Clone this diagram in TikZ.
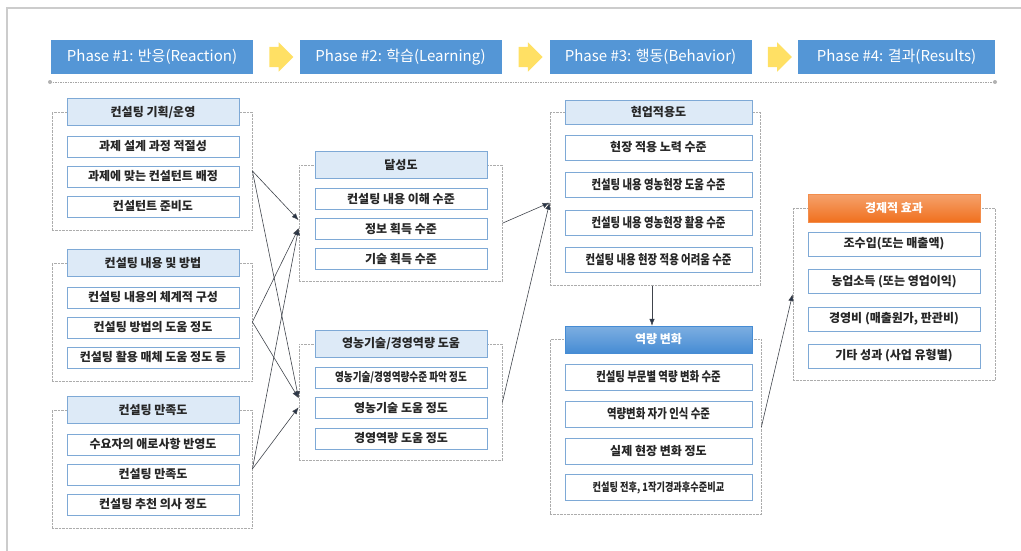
\documentclass[tikz,border=0pt]{standalone}
\usepackage{fontspec}
\setmainfont{Noto Sans CJK KR}
\newfontfamily\narrowkr[FakeStretch=0.8]{Noto Sans CJK KR}
\usetikzlibrary{shapes,arrows,arrows.meta,positioning,calc,fit,backgrounds}

\definecolor{phaseblue}{RGB}{84,150,214}
\definecolor{headfill}{RGB}{221,234,247}
\definecolor{boxline}{RGB}{126,169,214}
\definecolor{goyellow}{RGB}{255,224,100}
\definecolor{capblue}{RGB}{70,140,212}
\definecolor{caporange}{RGB}{240,112,30}
\definecolor{linkgray}{RGB}{64,68,76}
\definecolor{tipnavy}{RGB}{38,52,72}

\tikzset{
    groupbox/.style={draw=gray!65, densely dotted, inner sep=0pt},
    link/.style={-{Latex[length=7pt,width=5.5pt,fill=tipnavy]}, draw=linkgray, line width=0.6pt}
}

\begin{document}
\begin{tikzpicture}[
    x=1pt, y=-1pt,
    every node/.style={font=\fontsize{12}{14}\selectfont\bfseries, text=black!85},
    phase/.style={rectangle, fill=phaseblue, text=white, minimum width=202pt, minimum height=34pt, font=\fontsize{15}{17}\selectfont},
    go/.style={single arrow, fill=goyellow, minimum height=24pt, single arrow head extend=4.5pt, inner xsep=0pt, inner ysep=10pt},
    head/.style={rectangle, draw=boxline, fill=headfill, minimum width=172pt, minimum height=27pt, inner sep=0pt},
    item/.style={rectangle, draw=boxline, fill=white, minimum width=172pt, minimum height=21pt, inner sep=0pt},
    tight/.style={font=\fontsize{13}{15}\narrowkr\bfseries}
]
\useasboundingbox (0,0) rectangle (1021,550);
\draw[gray!40, line width=1.5pt] (7,552) -- (7,8) -- (1023,8);

    % Phases
    \node[phase] (ph1) at (152,57) {Phase \#1: 반응(Reaction)};
    \node[phase] (ph2) at (400.5,57) {Phase \#2: 학습(Learning)};
    \node[phase] (ph3) at (650.5,57) {Phase \#3: 행동(Behavior)};
    \node[phase, minimum width=197pt] (ph4) at (896.5,57) {Phase \#4: 결과(Results)};
    \node[go] (go1) at ($(ph1.east)!0.5!(ph2.west)$) {};
    \node[go] (go2) at ($(ph2.east)!0.5!(ph3.west)$) {};
    \node[go] (go3) at ($(ph3.east)!0.5!(ph4.west)$) {};

    \coordinate (ruleL) at (50,82);
    \coordinate (ruleR) at (995,82);
    \draw[gray!70, dash pattern=on 1.5pt off 1pt] (ruleL) -- (ruleR);
    \fill[gray!60] (ruleL) circle (2pt) (ruleR) circle (2pt);

    % Reaction
    \node[head] (plan) at (153,112) {컨설팅 기획/운영};
    \node[item, below=10pt of plan] (plan1) {과제 설계 과정 적절성};
    \node[item, below=8.5pt of plan1] (plan2) {과제에 맞는 컨설턴트 배정};
    \node[item, below=8.5pt of plan2] (plan3) {컨설턴트 준비도};

    \node[head] (method) at (153,263) {컨설팅 내용 및 방법};
    \node[item, below=10pt of method] (method1) {컨설팅 내용의 체계적 구성};
    \node[item, below=8.5pt of method1] (method2) {컨설팅 방법의 도움 정도};
    \node[item, below=8.5pt of method2] (method3) {컨설팅 활용 매체 도움 정도 등};

    \node[head] (satis) at (153,410) {컨설팅 만족도};
    \node[item, below=10pt of satis] (satis1) {수요자의 애로사항 반영도};
    \node[item, below=8.5pt of satis1] (satis2) {컨설팅 만족도};
    \node[item, below=8.5pt of satis2] (satis3) {컨설팅 추천 의사 정도};

    % Learning
    \node[head] (achieve) at (401,165) {달성도};
    \node[item, below=9.5pt of achieve] (achieve1) {컨설팅 내용 이해 수준};
    \node[item, below=8.5pt of achieve1] (achieve2) {정보 획득 수준};
    \node[item, below=8.5pt of achieve2] (achieve3) {기술 획득 수준};

    \node[head] (skill) at (401,344) {영농기술/경영역량 도움};
    \node[item, below=9pt of skill, font=\fontsize{12}{14}\narrowkr\bfseries] (skill1) {영농기술/경영역량수준 파악 정도};
    \node[item, below=9pt of skill1] (skill2) {영농기술 도움 정도};
    \node[item, below=9pt of skill2] (skill3) {경영역량 도움 정도};

    % Behavior
    \node[head, minimum width=187pt, minimum height=24pt] (apply) at (658.5,112) {현업적용도};
    \node[item, minimum width=187pt, minimum height=25pt, below=10.5pt of apply] (apply1) {현장 적용 노력 수준};
    \node[item, tight, minimum width=187pt, minimum height=25pt, below=12pt of apply1] (apply2) {컨설팅 내용 영농현장 도움 수준};
    \node[item, tight, minimum width=187pt, minimum height=25pt, below=12pt of apply2] (apply3) {컨설팅 내용 영농현장 활용 수준};
    \node[item, tight, minimum width=187pt, minimum height=25pt, below=12pt of apply3] (apply4) {컨설팅 내용 현장 적용 어려움 수준};

    \node[head, minimum width=187pt, draw=capblue, top color=capblue!70, bottom color=capblue, text=white] (change) at (658.5,339.5) {역량 변화};
    \node[item, tight, minimum width=187pt, minimum height=26pt, below=10.5pt of change] (change1) {컨설팅 부문별 역량 변화 수준};
    \node[item, tight, minimum width=187pt, minimum height=26pt, below=10.5pt of change1] (change2) {역량변화 자가 인식 수준};
    \node[item, minimum width=187pt, minimum height=26pt, below=10.5pt of change2] (change3) {실제 현장 변화 정도};
    \node[item, minimum width=187pt, minimum height=26pt, below=10.5pt of change3, font=\fontsize{11.5}{13}\narrowkr\bfseries] (change4) {컨설팅 전후, 1작기경과후수준비교};

    % Results
    \node[head, minimum height=28pt, draw=caporange!80, top color=caporange!65, bottom color=caporange, text=white] (econ) at (894,208) {경제적 효과};
    \node[item, minimum height=24pt, below=9.5pt of econ] (econ1) {조수입(또는 매출액)};
    \node[item, minimum height=24pt, below=13pt of econ1] (econ2) {농업소득 (또는 영업이익)};
    \node[item, minimum height=24pt, below=13pt of econ2] (econ3) {경영비 (매출원가, 판관비)};
    \node[item, minimum height=24pt, below=13pt of econ3] (econ4) {기타 성과 (사업 유형별)};

    % Group frames
    \begin{scope}[on background layer]
    \node[groupbox, fit={($(plan.west)+(-15,0)$) ($(plan3.south east)+(13,13)$)}] (planbox) {};
    \node[groupbox, fit={($(method.west)+(-15,0)$) ($(method3.south east)+(13,13)$)}] (methodbox) {};
    \node[groupbox, fit={($(satis.west)+(-15,0)$) ($(satis3.south east)+(13,13)$)}] (satisbox) {};
    \node[groupbox, fit={($(achieve.west)+(-16,0)$) ($(achieve3.south east)+(15,12)$)}] (achievebox) {};
    \node[groupbox, fit={($(skill.west)+(-16,0)$) ($(skill3.south east)+(15,11.5)$)}] (skillbox) {};
    \node[groupbox, fit={($(apply.west)+(-15,0)$) ($(apply4.south east)+(8,13)$)}] (applybox) {};
    \node[groupbox, fit={($(change.west)+(-15,0)$) ($(change4.south east)+(9,13.5)$)}] (changebox) {};
    \node[groupbox, fit={($(econ.west)+(-15,0)$) ($(econ4.south east)+(15,12)$)}] (econbox) {};
    \end{scope}

    % Links
    \draw[link] (planbox.east) -- ([yshift=3pt]achievebox.west);
    \draw[link] (planbox.east) -- ([yshift=4pt]skillbox.west);
    \draw[link] (methodbox.east) -- ([yshift=-5pt]achievebox.west);
    \draw[link] (methodbox.east) -- ([yshift=4pt]skillbox.west);
    \draw[link] (satisbox.east) -- ([yshift=-5pt]achievebox.west);
    \draw[link] (satisbox.east) -- ([yshift=-5pt]skillbox.west);
    \draw[link] (achievebox.east) -- ([yshift=-4pt]applybox.west);
    \draw[link] (skillbox.east) -- ([yshift=-4pt]applybox.west);
    \draw[link] ([xshift=-3pt]applybox.south) -- ([xshift=-3pt]applybox.south |- change.north);
    \draw[link] (changebox.east) -- (econbox.west);

\end{tikzpicture}
\end{document}
